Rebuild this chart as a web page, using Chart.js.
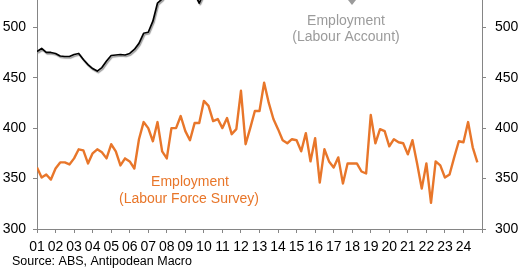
<!DOCTYPE html>
<html>
<head>
<meta charset="utf-8">
<script src="https://cdn.jsdelivr.net/npm/chart.js@4.4.1/dist/chart.umd.min.js"></script>
<style>
  html, body { margin: 0; padding: 0; background: #fff; }
  #wrap { width: 520px; height: 272px; position: relative; }
</style>
</head>
<body>
<div id="wrap"><canvas id="empChart" width="520" height="272"></canvas></div>
<script>
// Quarterly data, 2001 Q1 .. 2024 Q4 (thousands)
const startYear = 2001;
const yearLabels = ['01','02','03','04','05','06','07','08','09','10','11','12',
                    '13','14','15','16','17','18','19','20','21','22','23','24'];
const yTicks = [300, 350, 400, 450, 500];

const lfsEmployment = [
  361, 351, 354, 349, 360, 366, 366, 364, 370, 379, 378, 365,
  375, 379, 376, 370, 384, 377, 363, 370, 367, 360, 389, 406,
  400, 387, 406, 377, 370, 400, 400, 412, 397, 388, 405, 405,
  427, 422, 407, 409, 400, 410, 394, 399, 437, 384, 400, 417,
  417, 445, 425, 409, 399, 388, 385, 389, 388, 377, 395, 367,
  390, 346, 379, 367, 361, 371, 345, 365, 365, 365, 357, 355,
  413, 385, 399, 397, 382, 389, 386, 385, 374, 388, 365, 340,
  365, 326, 367, 363, 351, 354, 371, 387, 386, 406, 381, 366
];

// most of this runs above the top of the cropped chart
const labourAccount = [
  476, 479, 475, 475, 474, 471.5, 471, 471, 473, 474, 468, 463,
  459, 456.5, 460, 466.5, 472, 472.5, 473, 472.5, 474, 478, 484, 494,
  495, 506, 524, 528, 536, 540, 538, 535, 533, 534, 533, 524,
  534, 540, 544, 547, 550, 552, 555, 557, 560, 563, 566, 570,
  574, 578, 582, 585, 588, 590, 594, 597, 600, 604, 608, 612,
  616, 620, 624, 628, 632, 636, 640, 644, 648, 652, 656, 660,
  664, 668, 672, 676, 650, 640, 660, 670, 676, 680, 684, 688,
  692, 696, 700, 704, 708, 712, 716, 720, 724, 728, 732, 736
];

const toPoints = arr => arr.map((v, i) => ({ x: startYear + i / 4, y: v }));

const FONT = "'Liberation Sans', Arial, sans-serif";
const ORANGE = '#E8762A';
const AXIS = '#858585';

// grey drop shadow under the Labour Account line
const shadowPlugin = {
  id: 'shadow',
  beforeDatasetDraw(chart, args) {
    if (args.index !== 0) return;
    const ctx = chart.ctx;
    ctx.save();
    ctx.shadowColor = '#9a9a9a';
    ctx.shadowBlur = 1;
    ctx.shadowOffsetX = 1;
    ctx.shadowOffsetY = 1.5;
  },
  afterDatasetDraw(chart, args) {
    if (args.index !== 0) return;
    chart.ctx.restore();
  }
};

// labels, arrow head and source note
const notesPlugin = {
  id: 'notes',
  afterDraw(chart) {
    const ctx = chart.ctx;
    ctx.save();
    ctx.font = '14px ' + FONT;
    ctx.textAlign = 'center';
    ctx.textBaseline = 'alphabetic';

    ctx.fillStyle = '#9b9b9b';
    ctx.fillText('Employment', 346, 25);
    ctx.fillText('(Labour Account)', 346, 40.5);

    ctx.beginPath();
    ctx.moveTo(348, 0);
    ctx.lineTo(356, 0);
    ctx.lineTo(352, 5);
    ctx.closePath();
    ctx.fill();

    ctx.fillStyle = ORANGE;
    ctx.fillText('Employment', 190, 186);
    ctx.fillText('(Labour Force Survey)', 189, 203);

    ctx.font = '12.5px ' + FONT;
    ctx.textAlign = 'left';
    ctx.fillStyle = '#000';
    ctx.fillText('Source: ABS, Antipodean Macro', 12, 265);
    ctx.restore();
  }
};

const fixTicks = scale => { scale.ticks = yTicks.map(v => ({ value: v })); };
// fixed axis widths, and no label padding above the plot (chart is cropped at top)
const fitY = w => scale => {
  scale.width = w;
  scale.paddingTop = 0;
  scale.paddingBottom = 0;
};

const ctx = document.getElementById('empChart').getContext('2d');
const empChart = new Chart(ctx, {
  type: 'line',
  data: {
    datasets: [
      {
        label: 'Employment (Labour Account)',
        data: toPoints(labourAccount),
        borderColor: '#000',
        borderWidth: 1.7,
        yAxisID: 'y'
      },
      {
        label: 'Employment (Labour Force Survey)',
        data: toPoints(lfsEmployment),
        borderColor: ORANGE,
        borderWidth: 2.4,
        yAxisID: 'y'
      }
    ]
  },
  options: {
    responsive: false,
    animation: false,
    devicePixelRatio: 1,
    layout: { autoPadding: false, padding: 0 },
    elements: {
      point: { radius: 0 },
      line: { tension: 0, borderJoinStyle: 'round' }
    },
    plugins: {
      legend: { display: false },
      tooltip: { enabled: false }
    },
    scales: {
      x: {
        type: 'linear',
        min: 2001,
        max: 2025,
        afterFit: s => { s.height = 43; },
        border: { color: AXIS, width: 1 },
        grid: { drawOnChartArea: false, drawTicks: true, tickLength: 4, color: AXIS },
        ticks: {
          stepSize: 1,
          autoSkip: false,
          maxRotation: 0,
          padding: 6,
          color: '#000',
          font: { family: FONT, size: 14 },
          callback: v => yearLabels[Math.round(v - startYear)] || ''
        }
      },
      y: {
        position: 'left',
        min: 300,
        max: 527,
        afterBuildTicks: fixTicks,
        afterFit: fitY(37),
        border: { color: AXIS, width: 1 },
        grid: { drawOnChartArea: false, tickLength: 4, color: AXIS },
        ticks: { padding: 7, color: '#000', font: { family: FONT, size: 14 } }
      },
      y2: {
        position: 'right',
        min: 300,
        max: 527,
        afterBuildTicks: fixTicks,
        afterFit: fitY(38),
        border: { color: AXIS, width: 1 },
        grid: { drawOnChartArea: false, tickLength: 4, color: AXIS },
        ticks: { padding: 9, color: '#000', font: { family: FONT, size: 14 } }
      }
    }
  },
  plugins: [shadowPlugin, notesPlugin]
});
</script>
</body>
</html>
